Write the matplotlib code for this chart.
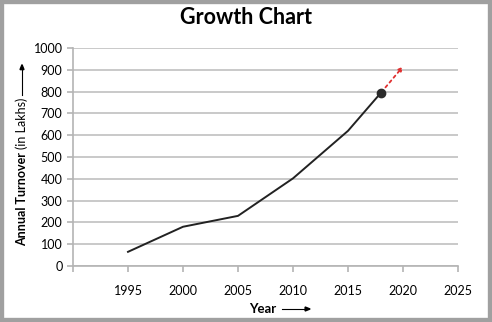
import matplotlib.pyplot as plt
from matplotlib.patches import Rectangle

# turnover per year (in lakhs)
years = [1995, 2000, 2005, 2010, 2015, 2018]
turnover = [65, 180, 230, 402, 620, 795]
# projected trend
proj_years = [2018, 2020]
proj_turnover = [795, 915]

x_ticks = [1990, 1995, 2000, 2005, 2010, 2015, 2020, 2025]
x_labels = ['', '1995', '2000', '2005', '2010', '2015', '2020', '2025']
y_ticks = list(range(0, 1001, 100))

plt.rcParams['font.family'] = ['Lato', 'DejaVu Sans']

W, H = 492, 322
fig = plt.figure(figsize=(W / 100, H / 100), dpi=100)
ax = fig.add_axes([73 / W, 1 - 266 / H, (458 - 73) / W, (266 - 48) / H])

grey = '#b4b4b4'
ax.set_xlim(1990, 2025)
ax.set_ylim(0, 1000)
ax.set_xticks(x_ticks)
ax.set_xticklabels(x_labels)
ax.set_yticks(y_ticks)
ax.yaxis.grid(True, color='#c0c0c0', lw=1.2)
ax.set_axisbelow(True)
for s in ['top', 'right']:
    ax.spines[s].set_visible(False)
for s in ['left', 'bottom']:
    ax.spines[s].set_color(grey)
    ax.spines[s].set_linewidth(1.2)
ax.tick_params(axis='both', colors=grey, length=4, width=1.2, labelsize=9,
               labelcolor='black')
ax.tick_params(axis='x', pad=10)

ax.plot(years, turnover, color='#222222', lw=1.4, zorder=3)
ax.plot(years[-1], turnover[-1], 'o', color='#2b2b2b', ms=6, zorder=4)
ax.annotate('', xy=(proj_years[1], proj_turnover[1]),
            xytext=(proj_years[0], proj_turnover[0]),
            arrowprops=dict(arrowstyle='-|>', color='#e03030', lw=1.3,
                            linestyle=(0, (1.5, 2)), mutation_scale=6,
                            shrinkA=5, shrinkB=0), zorder=3)

fig.text(0.5, 1 - 18 / H, 'Growth Chart', ha='center', va='center',
         fontsize=15.5, fontweight='bold')

# y axis title: bold part, normal part, then an up arrow
r = fig.canvas.get_renderer()
yx = 22 / W
t1 = fig.text(yx, 1 - 246 / H, 'Annual Turnover', rotation=90, ha='center',
              va='bottom', fontsize=9, fontweight='bold')
top1 = t1.get_window_extent(r).y1 / H
t2 = fig.text(yx, top1 + 3 / H, '(in Lakhs)', rotation=90, ha='center',
              va='bottom', fontsize=9)
top2 = t2.get_window_extent(r).y1 / H
fig.add_artist(plt.Line2D([yx, yx], [top2 + 3 / H, top2 + 30 / H],
                          color='black', lw=0.8))
fig.add_artist(plt.Polygon([[yx - 2 / W, top2 + 28 / H], [yx + 2 / W, top2 + 28 / H],
                            [yx, top2 + 33 / H]], color='black'))

# x axis title with a right arrow
t3 = fig.text(249 / W, 1 - 309 / H, 'Year', ha='left', va='center',
              fontsize=9.5, fontweight='bold')
right3 = t3.get_window_extent(r).x1 / W
fig.add_artist(plt.Line2D([right3 + 6 / W, right3 + 30 / W], [1 - 309 / H, 1 - 309 / H],
                          color='black', lw=0.8))
fig.add_artist(plt.Polygon([[right3 + 29 / W, 1 - 307 / H], [right3 + 29 / W, 1 - 311 / H],
                            [right3 + 34 / W, 1 - 309 / H]], color='black'))

# outer frame
fig.add_artist(Rectangle((0, 0), 1, 1, transform=fig.transFigure, fill=False,
                         edgecolor='#a0a0a0', lw=6))

fig.savefig('out.png', dpi=100)
